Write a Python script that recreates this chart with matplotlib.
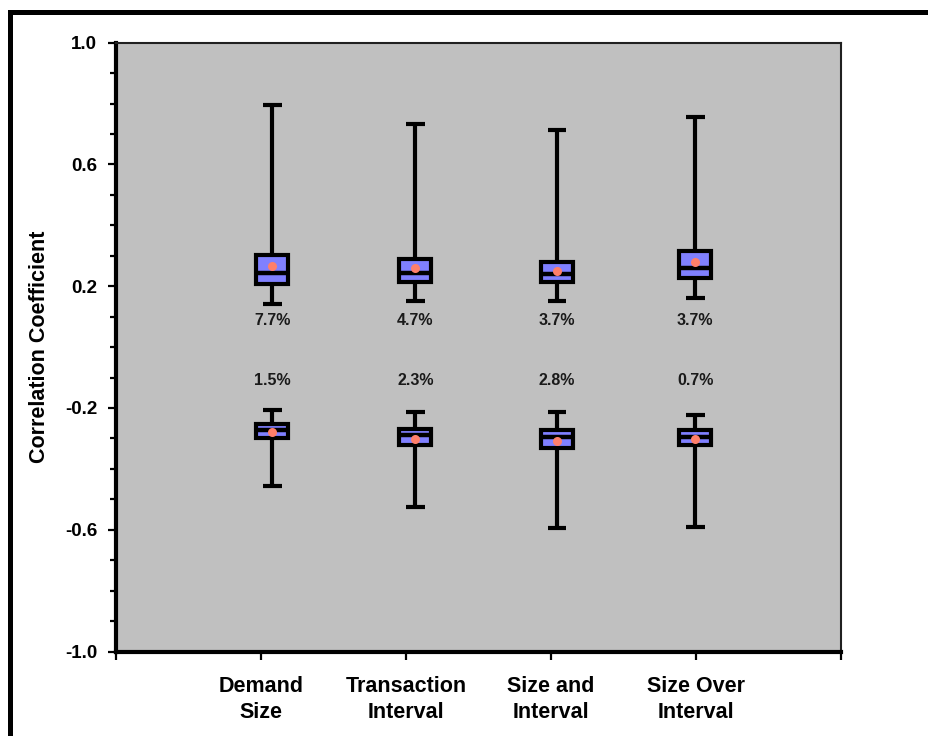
import matplotlib
matplotlib.use("Agg")
import matplotlib.pyplot as plt
from matplotlib.patches import Rectangle
from matplotlib.ticker import MultipleLocator, FixedLocator, FixedFormatter

plt.rcParams["font.family"] = ["Liberation Sans", "DejaVu Sans"]
plt.rcParams["font.weight"] = "bold"

# Categories and the summary statistics of the correlation coefficients
categories = ["Demand\nSize", "Transaction\nInterval", "Size and\nInterval", "Size Over\nInterval"]

# Positive-correlation group
pos_whislo = [0.143, 0.151, 0.151, 0.160]
pos_q1 = [0.207, 0.213, 0.213, 0.226]
pos_med = [0.245, 0.243, 0.240, 0.261]
pos_mean = [0.267, 0.259, 0.251, 0.279]
pos_q3 = [0.304, 0.290, 0.280, 0.316]
pos_whishi = [0.795, 0.733, 0.713, 0.756]
pos_pct = ["7.7%", "4.7%", "3.7%", "3.7%"]

# Negative-correlation group
neg_whislo = [-0.456, -0.525, -0.594, -0.590]
neg_q1 = [-0.300, -0.323, -0.332, -0.322]
neg_med = [-0.271, -0.290, -0.294, -0.295]
neg_mean = [-0.279, -0.302, -0.308, -0.302]
neg_q3 = [-0.254, -0.268, -0.273, -0.273]
neg_whishi = [-0.208, -0.214, -0.214, -0.222]
neg_pct = ["1.5%", "2.3%", "2.8%", "0.7%"]

y_ticks = [-1.0, -0.6, -0.2, 0.2, 0.6, 1.0]

box_x = [1.078, 2.064, 3.041, 3.995]


def make_stats(lo, q1, med, mean, q3, hi):
    return [dict(whislo=a, q1=b, med=c, mean=d, q3=e, whishi=f, fliers=[])
            for a, b, c, d, e, f in zip(lo, q1, med, mean, q3, hi)]


stats = (make_stats(pos_whislo, pos_q1, pos_med, pos_mean, pos_q3, pos_whishi)
         + make_stats(neg_whislo, neg_q1, neg_med, neg_mean, neg_q3, neg_whishi))
positions = box_x + box_x

fig = plt.figure(figsize=(9.29, 7.36), dpi=100)
ax = fig.add_axes([116 / 929, 1 - 651.5 / 736, 725 / 929, 608.8 / 736])
ax.set_facecolor("#C0C0C0")

ax.bxp(stats, positions=positions, widths=0.22, capwidths=0.13,
       patch_artist=True, showmeans=True, showfliers=False, manage_ticks=False,
       boxprops=dict(facecolor="#8080FF", edgecolor="black", linewidth=3),
       medianprops=dict(color="black", linewidth=3.2, solid_capstyle="butt"),
       whiskerprops=dict(color="black", linewidth=3, solid_capstyle="butt"),
       capprops=dict(color="black", linewidth=3, solid_capstyle="butt"),
       meanprops=dict(marker="o", markerfacecolor="#FF7F6A",
                      markeredgecolor="none", markersize=6.5))

# Percentage annotations
for x, t in zip(box_x, pos_pct):
    ax.text(x, 0.089, t, ha="center", va="center", fontsize=11.5,
            fontweight="bold", color="#1a1a1a")
for x, t in zip(box_x, neg_pct):
    ax.text(x, -0.111, t, ha="center", va="center", fontsize=11.5,
            fontweight="bold", color="#1a1a1a")

ax.set_xlim(0, 5)
ax.set_ylim(-1.0, 1.0)

ax.xaxis.set_major_locator(FixedLocator([0, 1, 2, 3, 4, 5]))
ax.xaxis.set_major_formatter(FixedFormatter([""] + categories + [""]))
ax.yaxis.set_major_locator(FixedLocator(y_ticks))
ax.yaxis.set_minor_locator(MultipleLocator(0.1))
ax.yaxis.set_major_formatter(plt.FormatStrFormatter("%.1f"))

ax.tick_params(axis="x", which="major", direction="out", length=6, width=1.6,
               pad=12, labelsize=15.5)
ax.tick_params(axis="y", which="major", direction="out", length=5.5, width=1.6,
               pad=8, labelsize=13.5)
ax.tick_params(axis="y", which="minor", direction="out", length=4.5, width=1.6)
for lbl in ax.get_xticklabels() + ax.get_yticklabels():
    lbl.set_fontweight("bold")
for lbl in ax.get_xticklabels():
    lbl.set_linespacing(1.3)

ax.set_ylabel("Correlation Coefficient", fontsize=15.5, fontweight="bold", va="center")
ax.yaxis.set_label_coords(-0.106, 0.5)

for side in ("left", "bottom"):
    ax.spines[side].set_linewidth(3)
for side in ("top", "right"):
    ax.spines[side].set_linewidth(1.5)
    ax.spines[side].set_color("#202020")

# Outer frame around the figure
fig.patches.append(Rectangle((10.3 / 929, -0.5), 2.0, 1.5 - 11.7 / 736,
                             transform=fig.transFigure, fill=False,
                             edgecolor="black", linewidth=3.6))

fig.savefig("out.png", dpi=100)
